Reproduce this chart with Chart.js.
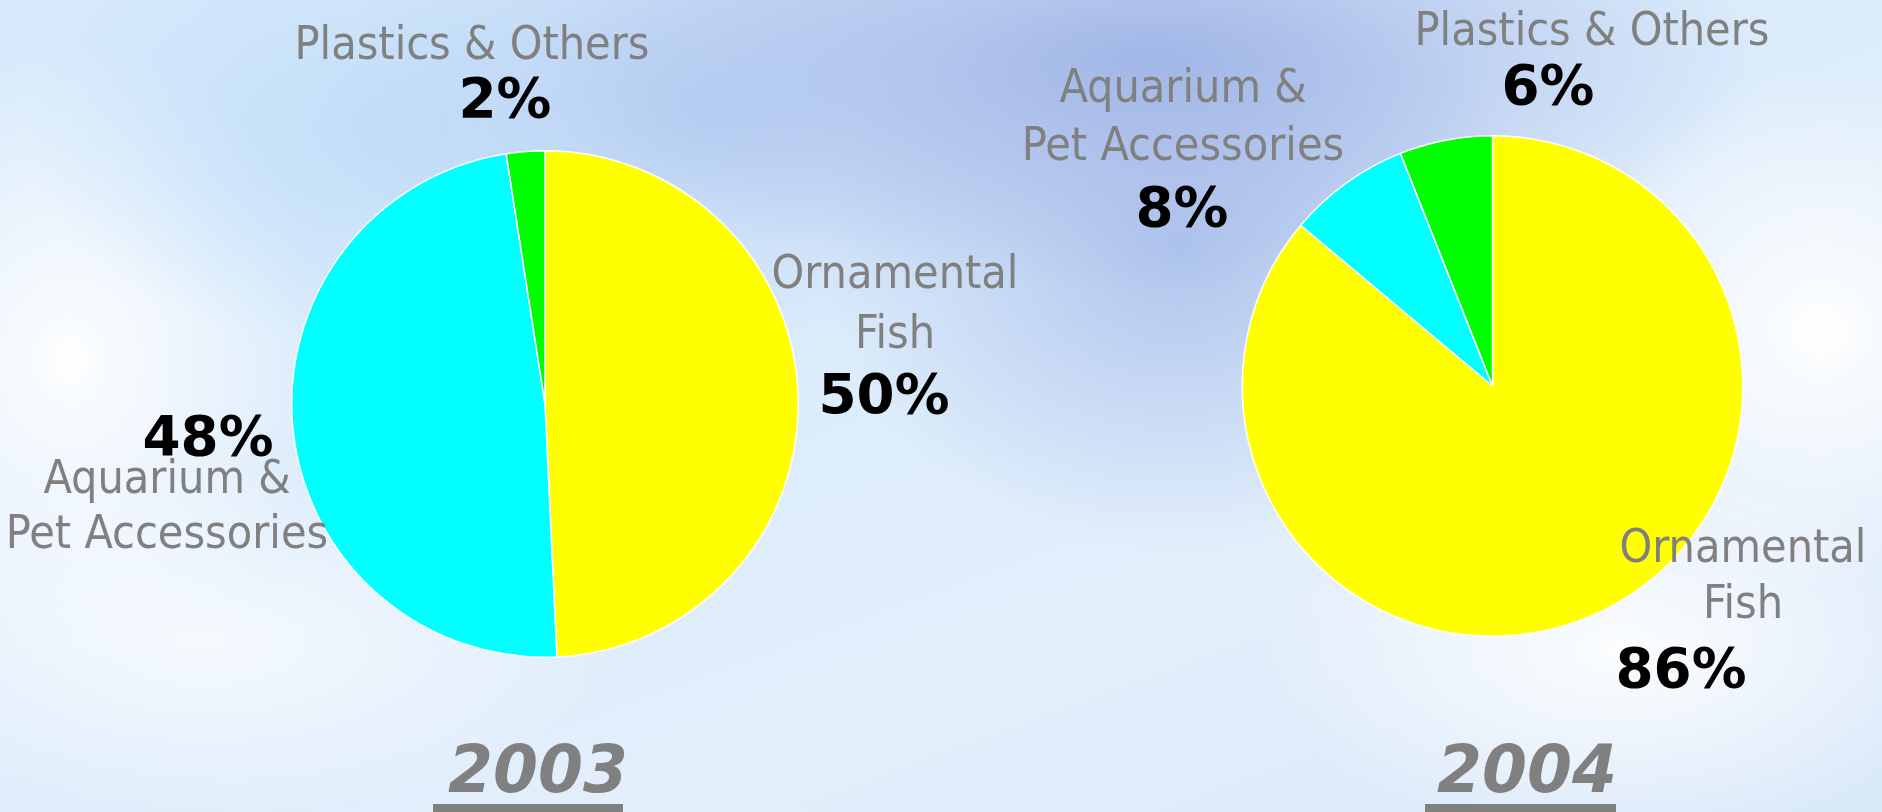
<!DOCTYPE html>
<html>
<head>
<meta charset="utf-8">
<script src="https://cdn.jsdelivr.net/npm/chart.js@4/dist/chart.umd.min.js"></script>
<style>
  html, body { margin: 0; padding: 0; width: 1882px; height: 812px; overflow: hidden; }
  body {
    background:
      radial-gradient(ellipse 620px 230px at 1150px 60px, rgba(160,180,230,0.95), rgba(160,180,230,0) 100%),
      radial-gradient(ellipse 360px 300px at 1180px 250px, rgba(168,190,234,0.85), rgba(168,190,234,0) 100%),
      radial-gradient(ellipse 380px 240px at 700px 110px, rgba(180,205,242,0.8), rgba(180,205,242,0) 100%),
      radial-gradient(ellipse 360px 220px at 380px 130px, rgba(190,220,248,0.85), rgba(190,220,248,0) 100%),
      radial-gradient(ellipse 260px 320px at 70px 360px, rgba(255,255,255,0.95), rgba(255,255,255,0) 100%),
      radial-gradient(ellipse 260px 260px at 1820px 330px, rgba(255,255,255,0.95), rgba(255,255,255,0) 100%),
      radial-gradient(ellipse 360px 200px at 1620px 650px, rgba(255,255,255,0.9), rgba(255,255,255,0) 100%),
      radial-gradient(ellipse 420px 180px at 200px 640px, rgba(248,251,255,0.9), rgba(248,251,255,0) 100%),
      linear-gradient(160deg, #d6e9fb 0%, #dcecfb 45%, #e3effb 70%, #d8e8f9 100%);
  }
  .wrap { position: absolute; left: 0; top: 0; width: 1882px; height: 812px; }
</style>
</head>
<body>
<div class="wrap"><canvas id="c2003"></canvas></div>
<div class="wrap"><canvas id="c2004"></canvas></div>
<script>
// ---- data ----
const categories = ['Ornamental Fish', 'Aquarium & Pet Accessories', 'Plastics & Others'];
const categoryLines = [['Ornamental', 'Fish'], ['Aquarium &', 'Pet Accessories'], ['Plastics & Others']];
const years = ['2003', '2004'];
const shares2003 = [49.25, 48.3, 2.45];
const shares2004 = [86.1, 7.9, 6.0];
const pctLabels2003 = ['50%', '48%', '2%'];
const pctLabels2004 = ['86%', '8%', '6%'];
const sliceColors = ['#ffff00', '#00ffff', '#00ff00'];

// ---- layout (positions only) ----
const GRAY = '#808080';
const GRAY_FONT = "46px 'DejaVu Sans Condensed', 'DejaVu Sans', sans-serif";
const BOLD_FONT = "bold 56px 'DejaVu Sans Condensed', 'DejaVu Sans', sans-serif";
const YEAR_FONT = "italic bold 66px 'DejaVu Sans Condensed', 'DejaVu Sans', sans-serif";

const layouts = {
  '2003': {
    padding: { left: 291, right: 1083, top: 150, bottom: 154 },
    labels: [
      { x: 895, ys: [288, 348], px: 884, py: 413 },
      { x: 167, ys: [493, 548], px: 208, py: 455 },
      { x: 472, ys: [59], px: 505, py: 117 }
    ],
    year: { x: 538, y: 792, ux0: 433, ux1: 623 }
  },
  '2004': {
    padding: { left: 1241, right: 138, top: 135, bottom: 175 },
    labels: [
      { x: 1743, ys: [562, 618], px: 1681, py: 687 },
      { x: 1183, ys: [102, 160], px: 1182, py: 226 },
      { x: 1592, ys: [45], px: 1548, py: 104 }
    ],
    year: { x: 1527, y: 792, ux0: 1425, ux1: 1616 }
  }
};

function fitScale(ctx, font, sample, target) {
  ctx.save(); ctx.font = font; const w = ctx.measureText(sample).width; ctx.restore();
  return w > 0 ? target / w : 1;
}
function drawText(ctx, text, x, y, font, color, sx) {
  ctx.save();
  ctx.font = font; ctx.fillStyle = color; ctx.textAlign = 'center'; ctx.textBaseline = 'alphabetic';
  ctx.translate(x, y); ctx.scale(sx, 1);
  ctx.fillText(text, 0, 0);
  ctx.restore();
}

const labelPlugin = {
  id: 'sliceLabels',
  afterDraw(chart, args, opts) {
    const ctx = chart.ctx;
    const lay = layouts[opts.year];
    const sxGray = fitScale(ctx, GRAY_FONT, 'Plastics & Others', 355);
    const sxBold = fitScale(ctx, BOLD_FONT, '50%', 131);
    const sxYear = fitScale(ctx, YEAR_FONT, '2003', 180);
    opts.pct.forEach((p, i) => {
      const L = lay.labels[i];
      categoryLines[i].forEach((line, k) => drawText(ctx, line, L.x, L.ys[k], GRAY_FONT, GRAY, sxGray));
      drawText(ctx, p, L.px, L.py, BOLD_FONT, '#000000', sxBold);
    });
    const Y = lay.year;
    drawText(ctx, opts.year, Y.x, Y.y, YEAR_FONT, GRAY, sxYear);
    ctx.save(); ctx.fillStyle = GRAY; ctx.fillRect(Y.ux0, 804, Y.ux1 - Y.ux0, 8); ctx.restore();
  }
};

function makePie(id, year, shares, pct) {
  const lay = layouts[year];
  return new Chart(document.getElementById(id), {
    type: 'pie',
    data: {
      labels: categories,
      datasets: [{ data: shares, backgroundColor: sliceColors, borderColor: '#ffffff', borderWidth: 1.5 }]
    },
    options: {
      responsive: true, maintainAspectRatio: false, animation: false,
      events: [],
      layout: { padding: lay.padding },
      plugins: { legend: { display: false }, tooltip: { enabled: false }, sliceLabels: { year: year, pct: pct } }
    },
    plugins: [labelPlugin]
  });
}
makePie('c2003', years[0], shares2003, pctLabels2003);
makePie('c2004', years[1], shares2004, pctLabels2004);
</script>
</body>
</html>
